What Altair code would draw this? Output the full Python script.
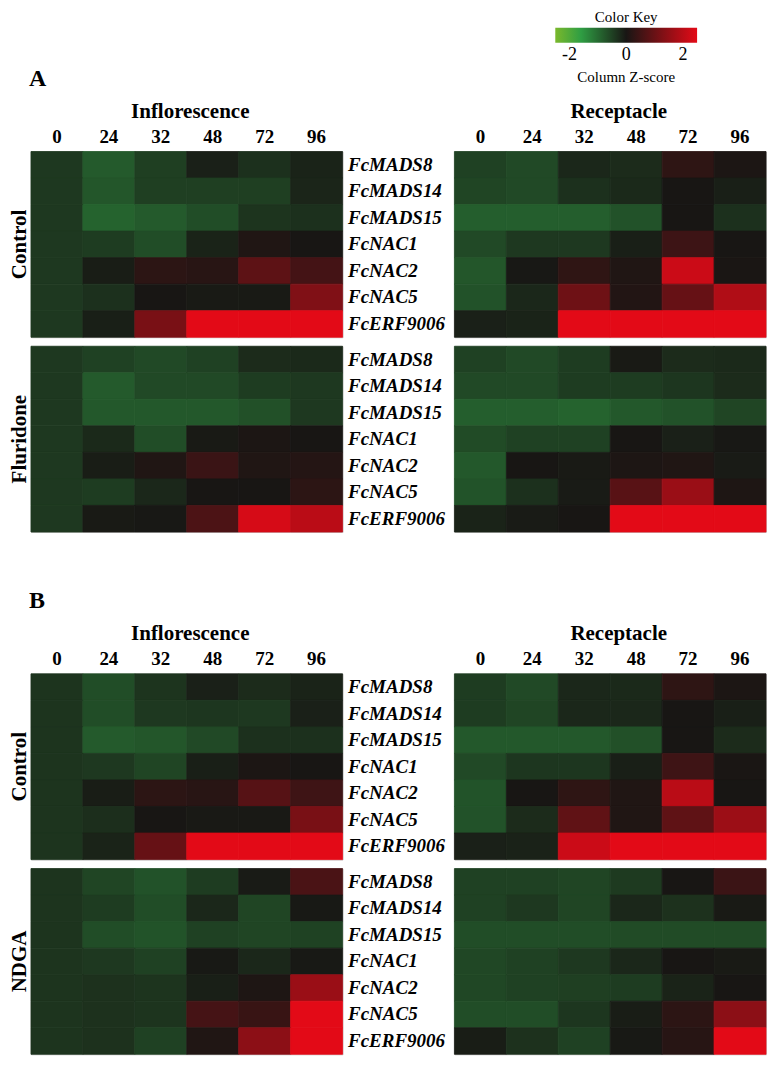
import altair as alt
import pandas as pd

genes = ["FcMADS8", "FcMADS14", "FcMADS15", "FcNAC1", "FcNAC2", "FcNAC5", "FcERF9006"]
times = ["0", "24", "32", "48", "72", "96"]

# Column Z-scores, rows = genes, columns = hours
a_ctrl_infl = [
    [-0.40, -0.80, -0.48, -0.12, -0.30, -0.15],
    [-0.40, -0.75, -0.48, -0.48, -0.48, -0.18],
    [-0.40, -0.90, -0.80, -0.65, -0.35, -0.30],
    [-0.40, -0.45, -0.65, -0.15, 0.10, 0.00],
    [-0.40, -0.08, 0.25, 0.20, 0.85, 0.54],
    [-0.40, -0.30, 0.00, -0.05, -0.05, 1.28],
    [-0.40, -0.10, 1.20, 2.50, 2.50, 2.50],
]
a_ctrl_rec = [
    [-0.50, -0.60, -0.20, -0.25, 0.27, 0.05],
    [-0.55, -0.60, -0.30, -0.22, 0.00, -0.10],
    [-0.85, -0.85, -0.85, -0.70, 0.00, -0.30],
    [-0.60, -0.40, -0.40, -0.10, 0.45, 0.00],
    [-0.75, -0.02, 0.28, 0.10, 2.20, 0.02],
    [-0.70, -0.20, 1.06, 0.12, 0.96, 1.87],
    [-0.12, -0.15, 2.50, 2.50, 2.50, 2.50],
]
a_flu_infl = [
    [-0.40, -0.50, -0.60, -0.50, -0.25, -0.22],
    [-0.40, -0.80, -0.60, -0.60, -0.45, -0.40],
    [-0.40, -0.78, -0.78, -0.78, -0.68, -0.40],
    [-0.40, -0.22, -0.65, -0.05, 0.05, 0.00],
    [-0.40, -0.08, 0.10, 0.42, 0.10, 0.15],
    [-0.40, -0.45, -0.20, 0.00, 0.00, 0.25],
    [-0.40, -0.05, -0.02, 0.64, 2.34, 2.00],
]
a_flu_rec = [
    [-0.50, -0.60, -0.45, -0.05, -0.25, -0.22],
    [-0.60, -0.60, -0.45, -0.45, -0.38, -0.25],
    [-0.85, -0.85, -0.90, -0.78, -0.70, -0.55],
    [-0.62, -0.50, -0.50, 0.00, -0.12, -0.02],
    [-0.78, 0.00, -0.05, 0.06, 0.10, -0.06],
    [-0.72, -0.30, -0.06, 0.79, 1.60, 0.08],
    [-0.15, -0.06, 0.00, 2.50, 2.50, 2.50],
]
b_ctrl_infl = [
    [-0.35, -0.65, -0.35, -0.12, -0.25, -0.15],
    [-0.35, -0.65, -0.40, -0.38, -0.40, -0.12],
    [-0.35, -0.80, -0.75, -0.60, -0.30, -0.30],
    [-0.35, -0.40, -0.55, -0.10, 0.05, 0.00],
    [-0.35, -0.08, 0.25, 0.20, 0.76, 0.47],
    [-0.35, -0.28, 0.00, -0.04, -0.04, 1.20],
    [-0.35, -0.15, 0.96, 2.50, 2.50, 2.50],
]
b_ctrl_rec = [
    [-0.45, -0.60, -0.20, -0.22, 0.27, 0.05],
    [-0.45, -0.55, -0.20, -0.20, 0.00, -0.10],
    [-0.78, -0.78, -0.78, -0.68, 0.00, -0.25],
    [-0.60, -0.38, -0.38, -0.10, 0.47, 0.02],
    [-0.72, 0.00, 0.27, 0.10, 2.00, 0.00],
    [-0.70, -0.25, 0.89, 0.10, 0.87, 1.63],
    [-0.12, -0.14, 2.20, 2.50, 2.50, 2.50],
]
b_ndga_infl = [
    [-0.35, -0.55, -0.70, -0.45, -0.06, 0.62],
    [-0.35, -0.45, -0.65, -0.20, -0.55, -0.03],
    [-0.35, -0.65, -0.72, -0.50, -0.55, -0.52],
    [-0.35, -0.40, -0.50, -0.03, -0.20, -0.03],
    [-0.35, -0.32, -0.35, -0.10, 0.08, 1.60],
    [-0.35, -0.32, -0.35, 0.55, 0.40, 2.50],
    [-0.35, -0.32, -0.50, 0.10, 1.43, 2.50],
]
b_ndga_rec = [
    [-0.50, -0.50, -0.55, -0.42, 0.00, 0.43],
    [-0.50, -0.40, -0.55, -0.20, -0.32, -0.05],
    [-0.65, -0.65, -0.65, -0.62, -0.62, -0.62],
    [-0.58, -0.50, -0.40, -0.20, 0.00, -0.05],
    [-0.58, -0.50, -0.48, -0.45, -0.15, 0.00],
    [-0.65, -0.65, -0.38, -0.08, 0.25, 1.43],
    [-0.08, -0.32, -0.50, -0.03, 0.18, 2.50],
]

key_ticks = [-2, 0, 2]
z_domain = [-2.5, -1.6, 0.0, 2.5]
z_colors = ["#7ab82c", "#2f9e43", "#181614", "#e30a17"]

FONT = "Liberation Serif"
PW, PH = 312, 186
GAP_H, GAP_V = 112, 9
HEAD_A, HEAD_B = 132, 124

color_scale = alt.Scale(domain=z_domain, range=z_colors, interpolate="rgb", clamp=True)
NO_FRAME = alt.ViewBackground(stroke="transparent")


def frame(values):
    rows = []
    for g, vals in zip(genes, values):
        for t, v in zip(times, vals):
            rows.append({"gene": g, "time": t, "z": v})
    return pd.DataFrame(rows)


def panel(values, tissue=None, label_genes=False, row_title=None, title_shift=0):
    if tissue:
        xaxis = alt.Axis(orient="top", labelAngle=0, labelFont=FONT, labelFontSize=19,
                         labelFontWeight="bold", labelColor="black", ticks=False, domain=False,
                         labelPadding=5, titleFont=FONT, titleFontSize=21, titleFontWeight="bold",
                         titleColor="black", titlePadding=6, titleX=PW / 2 + title_shift,
                         titleAlign="center")
    else:
        xaxis = None
    if label_genes:
        yaxis = alt.Axis(orient="right", labelFont=FONT, labelFontSize=19, labelFontWeight="bold",
                         labelFontStyle="italic", labelColor="black", ticks=False, domain=False,
                         labelPadding=5, title=None)
    else:
        yaxis = None
    ch = alt.Chart(frame(values)).mark_rect(strokeWidth=0.8).encode(
        x=alt.X("time:N", sort=times, title=tissue if tissue else "",
                scale=alt.Scale(paddingInner=0, paddingOuter=0), axis=xaxis),
        y=alt.Y("gene:N", sort=genes, scale=alt.Scale(paddingInner=0, paddingOuter=0), axis=yaxis),
        color=alt.Color("z:Q", scale=color_scale, legend=None),
        stroke=alt.Stroke("z:Q", scale=color_scale, legend=None),
    )
    props = dict(width=PW, height=PH)
    if row_title:
        props["title"] = alt.TitleParams(row_title, orient="left", anchor="middle", font=FONT,
                                         fontSize=21, fontWeight="bold", color="black", offset=1)
    return ch.properties(**props)


# Color key (placed in the right-hand column of the first header row)
kx = alt.Scale(domain=[-2.5, 2.5], range=[101, 243])
offs = [(d + 2.5) / 5.0 for d in z_domain]
grad = alt.Gradient(gradient="linear", x1=0, x2=1, y1=0, y2=0,
                    stops=[alt.GradientStop(color=c, offset=o) for c, o in zip(z_colors, offs)])
span_df = pd.DataFrame({"lo": [z_domain[0]], "hi": [z_domain[-1]]})
tick_df = pd.DataFrame({"v": key_ticks, "t": [str(v) for v in key_ticks]})

bar = alt.Chart(span_df).mark_rect(color=grad).encode(
    x=alt.X("lo:Q", scale=kx, axis=None), x2="hi:Q", y=alt.value(17), y2=alt.value(32))
ticks = alt.Chart(tick_df).mark_text(font=FONT, fontSize=18, baseline="middle", color="black").encode(
    x=alt.X("v:Q", scale=kx, axis=None), y=alt.value(44), text="t:N")
key_title = alt.Chart(pd.DataFrame({"v": [0], "t": ["Color Key"]})).mark_text(
    font=FONT, fontSize=15, baseline="middle", color="black").encode(
    x=alt.X("v:Q", scale=kx, axis=None), y=alt.value(6), text="t:N")
key_sub = alt.Chart(pd.DataFrame({"v": [0], "t": ["Column Z-score"]})).mark_text(
    font=FONT, fontSize=15, baseline="middle", color="black").encode(
    x=alt.X("v:Q", scale=kx, axis=None), y=alt.value(66), text="t:N")

key_cell = alt.layer(bar, ticks, key_title, key_sub).properties(width=PW, height=HEAD_A, view=NO_FRAME)


def letter(s, ypos, h):
    return alt.Chart(pd.DataFrame({"t": [s]})).mark_text(
        font=FONT, fontSize=24, fontWeight="bold", align="left", baseline="middle", color="black").encode(
        x=alt.value(-2), y=alt.value(ypos), text="t:N").properties(width=PW, height=h, view=NO_FRAME)


blank_b = alt.Chart(pd.DataFrame({"t": [""]})).mark_text().encode(
    text="t:N", x=alt.value(0), y=alt.value(0)).properties(width=PW, height=HEAD_B, view=NO_FRAME)

chart = alt.concat(
    letter("A", 68, HEAD_A), key_cell,
    panel(a_ctrl_infl, "Inflorescence", True, "Control", 3), panel(a_ctrl_rec, "Receptacle", title_shift=8),
    panel(a_flu_infl, None, True, "Fluridone"), panel(a_flu_rec),
    letter("B", 60, HEAD_B), blank_b,
    panel(b_ctrl_infl, "Inflorescence", True, "Control", 3), panel(b_ctrl_rec, "Receptacle", title_shift=8),
    panel(b_ndga_infl, None, True, "NDGA"), panel(b_ndga_rec),
    columns=2, spacing={"row": GAP_V, "column": GAP_H}, bounds="flush", align="each",
).properties(padding=0).configure(font=FONT, background="white").configure_view(
    stroke="#c8c8c8", strokeWidth=1)

chart.save("out.html", embed_options={"renderer": "svg", "actions": False})
